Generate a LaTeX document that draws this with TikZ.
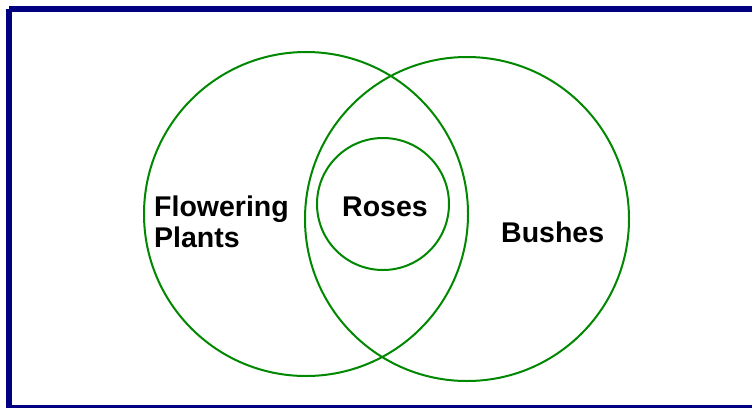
\documentclass[tikz,border=0pt]{standalone}
\usepackage{fontspec}
\setmainfont{Liberation Sans}
\definecolor{navyb}{RGB}{0,0,128}
\definecolor{setgreen}{RGB}{0,136,0}
\begin{document}
\begin{tikzpicture}[x=1pt,y=-1pt,
  setcircle/.style={draw=setgreen,line width=2pt},
  setlabel/.style={font=\bfseries\fontsize{28.5}{31}\selectfont,inner sep=0pt,anchor=base west,align=left}]
\useasboundingbox (0,0) rectangle (752,408);
\fill[white] (0,0) rectangle (752,408);
% frame
\fill[navyb] (9,6) rectangle (752,12);
\fill[navyb] (6,9) rectangle (12,408);
\fill[navyb] (12,405) rectangle (752,408);
% sets
\node[setcircle,circle,minimum size=324pt,inner sep=0pt] (flowering) at (306,214) {};
\node[setcircle,circle,minimum size=324pt,inner sep=0pt] (bushes) at (467,219) {};
\node[setcircle,circle,minimum size=132pt,inner sep=0pt] (roses) at (383,204) {};
% labels
\node[setlabel] (lf) at (154,247) {Flowering\\Plants};
\node[setlabel] (lr) at (342,216) {Roses};
\node[setlabel] (lb) at (501,242) {Bushes};
\end{tikzpicture}
\end{document}
